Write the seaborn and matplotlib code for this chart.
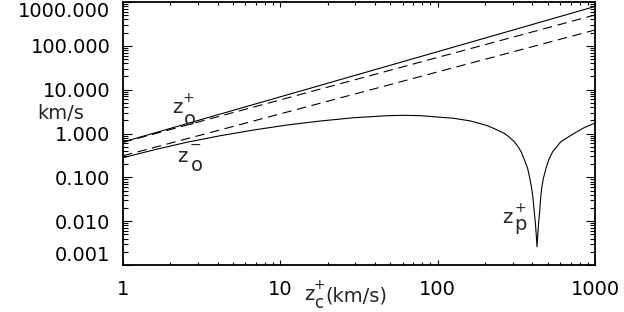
import matplotlib
matplotlib.use("Agg")
import matplotlib.pyplot as plt
import matplotlib.ticker as mticker
import seaborn as sns
import pandas as pd

# ---- data ----
x_ends = [1.0, 1000.0]
zo_plus_solid = [0.64, 790.0]
zo_plus_dashed = [0.63, 505.0]
zo_minus_dashed = [0.31, 230.0]

zp_x = [1, 1.56, 2.54, 4.15, 6.76, 11.0, 18.0, 29.3, 47.8, 61, 78, 127, 162,
        207, 230, 265, 285, 307, 323, 339, 356, 373, 385, 396, 404, 411, 418,
        423, 428, 433, 438, 445, 451, 458, 470, 488, 510, 538, 607, 738, 850,
        991]
zp_y = [0.28, 0.42, 0.63, 0.89, 1.2, 1.56, 1.93, 2.29, 2.55, 2.60, 2.55, 2.22,
        1.93, 1.51, 1.28, 1.01, 0.83, 0.65, 0.51, 0.385, 0.25, 0.16, 0.095,
        0.056, 0.032, 0.0165, 0.009, 0.005, 0.0026, 0.005, 0.009, 0.0165,
        0.032, 0.056, 0.095, 0.16, 0.26, 0.385, 0.65, 1.01, 1.35, 1.71]

x_ticks = [1, 10, 100, 1000]
x_tick_labels = ["1", "10", "100", "1000"]
y_ticks = [0.001, 0.01, 0.1, 1, 10, 100, 1000]

sns.set_style("ticks")
plt.rcParams["font.family"] = ["DejaVu Sans"]

FS = 14
fig = plt.figure(figsize=(6.24, 3.12), dpi=100)
ax = fig.add_axes([123 / 624, 47 / 312, 472 / 624, 263 / 312])

lw = 0.8
sns.lineplot(x=x_ends, y=zo_plus_solid, ax=ax, color="black", lw=lw)
l1 = sns.lineplot(x=x_ends, y=zo_plus_dashed, ax=ax, color="black", lw=lw).lines[-1]
l1.set_dashes((8.5, 5))
l2 = sns.lineplot(x=x_ends, y=zo_minus_dashed, ax=ax, color="black", lw=lw).lines[-1]
l2.set_dashes((8.5, 5))
sns.lineplot(data=pd.DataFrame({"x": zp_x, "y": zp_y}), x="x", y="y", ax=ax,
             color="black", lw=lw, sort=False, estimator=None)

ax.set_xscale("log")
ax.set_yscale("log")
ax.set_xlim(1, 1000)
ax.set_ylim(0.001, 1000)
ax.set_xlabel("")
ax.set_ylabel("")

ax.set_xticks(x_ticks)
ax.set_xticklabels(x_tick_labels)
ax.set_yticks(y_ticks)
ax.yaxis.set_major_formatter(mticker.FuncFormatter(lambda v, p: f"{v:.3f}"))
ax.xaxis.set_minor_locator(mticker.LogLocator(base=10, subs=range(2, 10), numticks=20))
ax.yaxis.set_minor_locator(mticker.LogLocator(base=10, subs=range(2, 10), numticks=20))
ax.xaxis.set_minor_formatter(mticker.NullFormatter())
ax.yaxis.set_minor_formatter(mticker.NullFormatter())

ax.tick_params(which="both", direction="in", top=True, right=True, width=0.8,
               color="black", labelsize=FS, labelcolor="black")
ax.tick_params(axis="x", which="major", length=3.8, pad=11)
ax.tick_params(axis="x", which="minor", length=1.9)
ax.tick_params(axis="y", which="major", length=6.8, pad=9)
ax.tick_params(axis="y", which="minor", length=3.4)

for s in ax.spines.values():
    s.set_linewidth(1.3)
    s.set_color("black")

# keep end labels inside like the reference
fig.canvas.draw()
ylabels = ax.get_yticklabels()
ylabels[0].set_va("bottom")
ylabels[-1].set_va("top")

ax.set_ylabel("km/s", fontsize=FS, rotation=0)
ax.yaxis.set_label_coords(-0.131, 0.576)
ax.yaxis.label.set_va("center")
ax.yaxis.label.set_ha("center")

def sym(x, y, s, size=FS, va="center", ha="center"):
    ax.text(x, y, s, transform=ax.transAxes, fontsize=size, ha=ha, va=va,
            clip_on=False)

# z_o^+
sym(0.1144, 0.597, "z")
sym(0.1377, 0.636, "+", size=10)
sym(0.142, 0.555, "o")
# z_o^-
sym(0.125, 0.414, "z")
sym(0.1525, 0.455, "\u2212", size=10)
sym(0.157, 0.380, "o")
# z_p^+
sym(0.8136, 0.1825, "z")
sym(0.841, 0.215, "+", size=10)
sym(0.843, 0.133, "p", va="baseline")
# x label z_c^+(km/s)
sym(0.394, -0.114, "z")
sym(0.415, -0.076, "+", size=10)
sym(0.415, -0.143, "c", size=12)
sym(0.428, -0.118, "(km/s)", ha="left")

fig.savefig("out.png", dpi=100)
